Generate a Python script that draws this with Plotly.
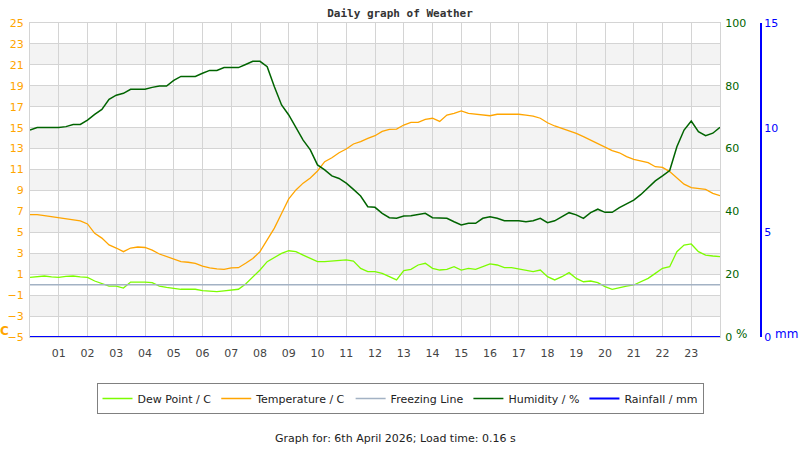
import plotly.graph_objects as go

# readings every 15 minutes, 00:00 to 24:00
hours = [q / 4 for q in range(97)]

temperature = [6.7, 6.7, 6.6, 6.5, 6.4, 6.35, 6.25, 6.1, 5.8, 4.9, 4.45, 3.8, 3.5, 3.15, 3.5, 3.6,
               3.55, 3.3, 2.93, 2.67, 2.48, 2.2, 2.14, 2.04, 1.78, 1.6, 1.5, 1.47, 1.6, 1.62, 2.04, 2.5,
               3.15, 4.27, 5.4, 6.8, 8.2, 9.05, 9.7, 10.2, 10.86, 11.75, 12.13, 12.6, 12.96, 13.44, 13.66, 13.98,
               14.23, 14.65, 14.84, 14.87, 15.25, 15.5, 15.5, 15.8, 15.9, 15.6, 16.2, 16.37, 16.6, 16.37, 16.28, 16.2,
               16.14, 16.28, 16.3, 16.3, 16.28, 16.2, 16.1, 15.9, 15.47, 15.16, 14.93, 14.7, 14.46, 14.14, 13.8, 13.44,
               13.08, 12.8, 12.6, 12.23, 11.98, 11.79, 11.65, 11.27, 11.2, 10.8, 10.16, 9.6, 9.27, 9.17, 9.1, 8.73,
               8.5]

dew_point = [0.7, 0.75, 0.83, 0.75, 0.7, 0.8, 0.83, 0.75, 0.7, 0.35, 0.13, -0.13, -0.13, -0.32, 0.25, 0.28,
             0.25, 0.19, -0.13, -0.25, -0.35, -0.44, -0.44, -0.44, -0.57, -0.63, -0.67, -0.6, -0.54, -0.44, 0.06, 0.7,
             1.4, 2.2, 2.6, 2.99, 3.24, 3.15, 2.83, 2.5, 2.2, 2.2, 2.26, 2.36, 2.36, 2.26, 1.56, 1.24,
             1.24, 1.08, 0.76, 0.45, 1.34, 1.47, 1.88, 2.04, 1.56, 1.4, 1.47, 1.72, 1.4, 1.56, 1.47, 1.72,
             1.98, 1.88, 1.62, 1.62, 1.47, 1.34, 1.24, 1.4, 0.76, 0.45, 0.76, 1.15, 0.6, 0.28, 0.35, 0.19,
             -0.19, -0.44, -0.25, -0.13, -0.03, 0.28, 0.6, 1.08, 1.56, 1.72, 3.15, 3.79, 3.89, 3.15, 2.83, 2.74,
             2.67]

humidity = [65.9, 66.7, 66.7, 66.7, 66.7, 67.0, 67.7, 67.7, 69.1, 70.9, 72.5, 75.7, 77.0, 77.6, 78.9, 78.9,
            78.9, 79.5, 79.9, 79.9, 81.75, 83.0, 83.0, 83.0, 84.0, 84.9, 84.9, 85.8, 85.8, 85.8, 86.8, 87.8,
            87.8, 86.1, 79.7, 73.9, 70.7, 66.8, 62.7, 59.6, 54.8, 53.2, 51.3, 50.5, 49.0, 47.0, 44.9, 41.5,
            41.3, 39.4, 38.0, 37.8, 38.5, 38.6, 38.9, 39.4, 38.0, 38.0, 37.8, 36.7, 35.7, 36.2, 36.2, 37.8,
            38.3, 37.8, 37.0, 37.0, 37.0, 36.7, 37.0, 37.8, 36.4, 37.0, 38.3, 39.6, 38.9, 37.8, 39.6, 40.7,
            39.7, 39.7, 41.2, 42.4, 43.6, 45.4, 47.7, 49.7, 51.3, 53.0, 60.6, 65.9, 68.8, 65.4, 64.1, 64.9,
            66.8]

rainfall = [0.0] * len(hours)

freezing_hours = [0, 24]
freezing_line = [0, 0]

hour_ticks = list(range(1, 24))
hour_labels = ['%02d' % h for h in hour_ticks]
temp_ticks = list(range(-5, 26, 2))
humidity_ticks = [0, 20, 40, 60, 80, 100]
rain_ticks = [0, 5, 10, 15]

ORANGE = '#ffa500'
LIME = '#7cfc00'
GREEN = '#006400'
BLUE = '#0000ff'
GRID = '#d4d4d4'
FONT = 'DejaVu Sans'

fig = go.Figure()
fig.add_trace(go.Scatter(x=hours, y=dew_point, name='Dew Point / C', mode='lines',
                         line=dict(color=LIME, width=1.3)))
fig.add_trace(go.Scatter(x=hours, y=temperature, name='Temperature / C', mode='lines',
                         line=dict(color=ORANGE, width=1.3)))
fig.add_trace(go.Scatter(x=freezing_hours, y=freezing_line, name='Freezing Line', mode='lines',
                         line=dict(color='#a3b2c4', width=1.5)))
fig.add_trace(go.Scatter(x=hours, y=humidity, name='Humidity / %', mode='lines', yaxis='y2',
                         line=dict(color=GREEN, width=1.5)))
fig.add_trace(go.Scatter(x=hours, y=rainfall, name='Rainfall / mm', mode='lines', yaxis='y3',
                         line=dict(color=BLUE, width=2)))

# alternating grey bands
for lo in range(-3, 25, 4):
    fig.add_shape(type='rect', xref='x domain', yref='y', x0=0, x1=1, y0=lo, y1=lo + 2,
                  fillcolor='#f3f3f3', line_width=0, layer='below')

W, L, R = 800, 30, 5
pw = W - L - R

fig.update_layout(
    template='none',
    width=800, height=450,
    margin=dict(l=L, r=R, t=23, b=113, autoexpand=False),
    paper_bgcolor='white', plot_bgcolor='white',
    font=dict(family=FONT, size=11, color='#333333'),
    title=dict(text='<b>Daily graph of Weather</b>', x=(400 - L) / pw, xref='paper', xanchor='center',
               y=1 - 13 / 450, yref='container', yanchor='middle',
               font=dict(family='DejaVu Sans Mono', size=11, color='#333333')),
    xaxis=dict(range=[0, 24], domain=[0, 690 / pw], tickvals=hour_ticks, ticktext=hour_labels,
               showgrid=True, gridcolor=GRID, zeroline=False, ticks='', ticklabelstandoff=6,
               showline=True, mirror=True, linecolor=GRID,
               tickfont=dict(color='#444444', size=11)),
    yaxis=dict(range=[-5, 25], tickvals=temp_ticks, showgrid=True, gridcolor=GRID,
               zeroline=False, ticks='', ticklabelstandoff=3, showline=True, linecolor=GRID,
               tickfont=dict(color=ORANGE, size=11)),
    yaxis2=dict(range=[0, 100], tickvals=humidity_ticks, overlaying='y', side='right', anchor='x',
                showgrid=False, zeroline=False, ticks='', ticklabelstandoff=2,
                showline=True, linecolor=GRID,
                tickfont=dict(color=GREEN, size=11)),
    yaxis3=dict(range=[0, 15], tickvals=rain_ticks, overlaying='y', side='right', anchor='free',
                position=(761 - L) / pw, showgrid=False, zeroline=False, ticks='',
                showline=True, linecolor=BLUE, linewidth=2,
                tickfont=dict(color=BLUE, size=11)),
    showlegend=True,
    legend=dict(orientation='h', x=(400 - L) / pw, xanchor='center', y=(337 - 383) / 314, yanchor='top',
                bordercolor='#808080', borderwidth=1, bgcolor='white',
                font=dict(family=FONT, size=11, color='#222222')),
)

unit_y = (337 - 334) / 314
fig.add_annotation(text='<b>C</b>', x=(4 - L) / pw, y=(337 - 331) / 314, xref='paper', yref='paper',
                   xanchor='center', yanchor='middle', showarrow=False, font=dict(color=ORANGE, size=12))
fig.add_annotation(text='%', x=(741 - L) / pw, y=unit_y, xref='paper', yref='paper',
                   xanchor='center', yanchor='middle', showarrow=False, font=dict(color=GREEN, size=12))
fig.add_annotation(text='mm', x=(786 - L) / pw, y=unit_y, xref='paper', yref='paper',
                   xanchor='center', yanchor='middle', showarrow=False, font=dict(color=BLUE, size=12))
fig.add_annotation(text='Graph for: 6th April 2026; Load time: 0.16 s', x=(395 - L) / pw,
                   y=(337 - 438) / 314, xref='paper', yref='paper', yanchor='middle',
                   showarrow=False, font=dict(color='#222222', size=11))

# drop the page's default body margin so the figure sits at the window's corner
fig.write_html("out.html", config={'displayModeBar': False},
               post_script="document.body.style.margin = '0';")
